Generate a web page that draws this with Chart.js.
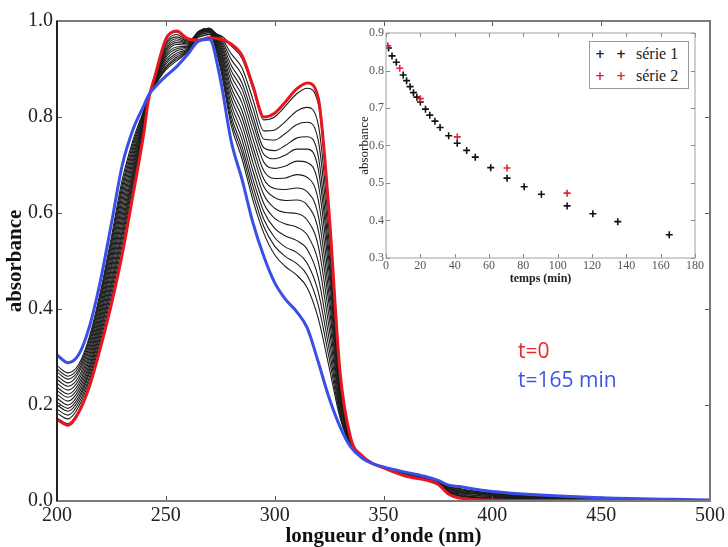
<!DOCTYPE html>
<html>
<head>
<meta charset="utf-8">
<script src="https://cdn.jsdelivr.net/npm/chart.js@4.4.0/dist/chart.umd.min.js"></script>
<style>
  html, body { margin: 0; padding: 0; background: #fff; }
  #wrap { position: relative; width: 728px; height: 547px; overflow: hidden; }
  #main { position: absolute; left: 0; top: 0; }
  #inset { position: absolute; left: 350px; top: 12px; }
  .note { position: absolute; font-family: 'Open Sans', sans-serif; font-size: 21px; line-height: 21px; white-space: nowrap; }
  #legend { position: absolute; left: 589px; top: 41px; width: 98px; height: 46px; border: 1px solid #9a9a9a; background: #fff;
            font-family: 'Liberation Serif', serif; font-size: 16px; color: #222; }
  #legend .row { position: absolute; left: 0; height: 20px; line-height: 20px; white-space: nowrap; }
  #legend .mk { position: absolute; width: 10px; text-align: center; font-family: 'DejaVu Sans', sans-serif; font-size: 12px; font-weight: bold; }
  #legend .lb { position: absolute; left: 46px; }
</style>
</head>
<body>
<div id="wrap">
  <canvas id="main" width="728" height="547"></canvas>
  <canvas id="inset" width="362" height="284"></canvas>
  <div id="legend">
    <div class="row" style="top:2px"><span class="mk" style="left:5px">+</span><span class="mk" style="left:26px">+</span><span class="lb">série 1</span></div>
    <div class="row" style="top:24px"><span class="mk" style="left:5px;color:#e3223c">+</span><span class="mk" style="left:26px;color:#e3223c">+</span><span class="lb">série 2</span></div>
  </div>
  <div class="note" style="left:518px;top:340px;color:#e8262b">t=0</div>
  <div class="note" style="left:518px;top:369px;color:#3f55e0">t=165 min</div>
</div>
<script>
// ── Spectra (wavelength grid in nm, absorbance) ──
const wavelengths = [200, 205, 210, 215, 220, 225, 230, 235, 240, 242, 245, 250, 255, 260, 265, 270, 275, 280, 285, 290,
  295, 300, 305, 310, 315, 320, 325, 330, 335, 340, 345, 350, 360, 370, 375, 380, 385, 390, 400, 420, 450, 500];

// t = 0
const absStart = [.170, .158, .185, .240, .320, .410, .515, .640, .770, .835, .885, .962, .979, .963, .960, .965, .962, .952, .928, .865,
  .800, .808, .832, .858, .871, .840, .600, .270, .130, .095, .078, .069, .052, .043, .035, .014, .006, .003, .002, .001, .001, .000];

// t = 165 min
const absEnd = [.304, .288, .305, .365, .460, .578, .700, .775, .825, .845, .862, .885, .905, .930, .958, .962, .880, .750, .670, .580,
  .510, .455, .420, .395, .360, .290, .215, .155, .112, .090, .078, .071, .060, .050, .043, .033, .030, .026, .020, .013, .007, .002];

// intermediate spectra (black), from earliest to latest
const absMiddle = [
  [.173, .161, .188, .243, .323, .414, .519, .643, .771, .835, .885, .960, .977, .962, .966, .972, .970, .948, .922, .859, .794, .800, .823, .848, .860, .828, .592, .268, .130, .095, .078, .069, .052, .043, .035, .014, .007, .004, .002, .001, .001, .000],
  [.183, .171, .197, .253, .334, .427, .534, .654, .776, .836, .883, .954, .972, .960, .971, .976, .968, .932, .902, .837, .771, .773, .791, .812, .820, .785, .562, .259, .128, .094, .078, .069, .053, .044, .036, .016, .008, .005, .004, .002, .002, .000],
  [.191, .179, .204, .260, .342, .437, .545, .662, .779, .837, .881, .950, .967, .958, .974, .979, .965, .920, .887, .819, .754, .752, .766, .784, .789, .752, .538, .252, .127, .094, .078, .069, .053, .044, .036, .017, .010, .007, .005, .003, .002, .001],
  [.200, .187, .211, .268, .351, .447, .556, .670, .782, .837, .880, .945, .963, .956, .976, .981, .962, .908, .871, .802, .736, .730, .741, .756, .759, .719, .515, .245, .126, .094, .078, .069, .054, .045, .037, .018, .011, .008, .006, .004, .002, .001],
  [.206, .193, .217, .274, .358, .455, .565, .677, .785, .838, .879, .941, .959, .954, .977, .983, .958, .897, .858, .788, .722, .713, .721, .733, .733, .692, .496, .239, .125, .094, .078, .070, .054, .045, .037, .019, .012, .009, .007, .004, .003, .001],
  [.214, .200, .224, .281, .366, .465, .575, .684, .788, .838, .878, .937, .955, .952, .978, .984, .954, .886, .844, .772, .706, .693, .698, .708, .705, .661, .475, .233, .124, .093, .078, .070, .055, .045, .038, .020, .014, .010, .008, .005, .003, .001],
  [.222, .208, .231, .288, .374, .475, .586, .692, .791, .839, .876, .932, .951, .950, .978, .985, .949, .874, .829, .755, .688, .672, .673, .680, .674, .628, .452, .226, .123, .093, .078, .070, .055, .046, .038, .021, .015, .012, .009, .006, .003, .001],
  [.230, .216, .238, .296, .382, .485, .597, .700, .795, .839, .875, .928, .946, .948, .978, .985, .944, .862, .813, .738, .671, .651, .649, .652, .644, .595, .429, .219, .122, .093, .078, .070, .056, .046, .039, .022, .017, .013, .010, .006, .004, .001],
  [.237, .223, .245, .303, .390, .494, .608, .708, .798, .840, .874, .924, .942, .947, .977, .985, .939, .851, .799, .723, .655, .632, .626, .627, .616, .565, .408, .213, .121, .093, .078, .070, .056, .047, .039, .024, .018, .015, .011, .007, .004, .001],
  [.245, .231, .252, .310, .398, .504, .619, .716, .801, .841, .872, .919, .938, .945, .976, .984, .933, .839, .784, .705, .638, .610, .601, .599, .585, .532, .384, .206, .120, .092, .078, .070, .056, .047, .039, .025, .019, .016, .012, .008, .004, .001],
  [.253, .239, .259, .318, .407, .514, .630, .724, .804, .841, .871, .914, .933, .943, .975, .983, .927, .827, .768, .688, .620, .589, .577, .571, .554, .499, .361, .199, .119, .092, .078, .070, .057, .047, .040, .026, .021, .017, .013, .008, .005, .001],
  [.261, .246, .267, .325, .415, .524, .641, .732, .807, .842, .869, .910, .929, .941, .973, .981, .921, .815, .753, .671, .603, .568, .552, .543, .524, .466, .338, .192, .118, .092, .078, .070, .057, .048, .040, .027, .022, .019, .014, .009, .005, .002],
  [.269, .254, .273, .332, .423, .533, .651, .739, .810, .842, .868, .905, .925, .939, .971, .978, .915, .803, .738, .656, .587, .549, .529, .518, .495, .436, .317, .186, .117, .091, .078, .070, .058, .048, .041, .028, .024, .020, .015, .010, .005, .002],
  [.275, .260, .279, .338, .430, .542, .660, .746, .813, .843, .867, .902, .921, .937, .969, .975, .909, .793, .726, .641, .572, .531, .509, .495, .470, .408, .298, .180, .116, .091, .078, .071, .058, .048, .041, .029, .025, .021, .016, .010, .006, .002],
  [.282, .267, .285, .344, .437, .550, .670, .753, .816, .843, .866, .898, .917, .935, .967, .972, .903, .783, .713, .627, .558, .513, .488, .471, .444, .381, .279, .174, .115, .091, .078, .071, .059, .049, .042, .030, .026, .022, .017, .011, .006, .002],
];

// ── Inset: absorbance vs time ──
const timesSerie1 = [1.5, 3.5, 6, 10, 12, 14, 16, 18, 20, 23, 25.5, 28.5, 31.5, 36.5, 41.5, 47, 52, 61, 70.5, 80.5, 90.5, 105.5, 120.5, 135, 165];
const absSerie1   = [.860, .839, .822, .788, .773, .757, .741, .729, .716, .697, .681, .665, .648, .626, .606, .587, .569, .541, .513, .490, .470, .439, .418, .397, .362];
const timesSerie2 = [1, 8, 20, 41.5, 70.5, 105.5];
const absSerie2   = [.866, .806, .725, .623, .540, .473];

const mainXTicks = [200, 500, 50];   // min, max, step
const mainYTicks = [0, 1, 0.2];
const insetXTicks = [0, 180, 20];
const insetYTicks = [0.3, 0.9, 0.1];

// ── Helpers ──
const SERIF = "'Liberation Serif', 'Times New Roman', serif";
const toPoints = (xs, ys) => xs.map((x, i) => ({ x, y: ys[i] }));

// frame round the plot area + small inward ticks (matplotlib look)
const frameTicks = {
  id: 'frameTicks',
  afterDatasetsDraw(chart, args, o) {
    const { ctx, chartArea: a } = chart;
    const xs = chart.scales.x, ys = chart.scales.y;
    ctx.save();
    ctx.strokeStyle = o.tickColor;
    ctx.lineWidth = 1;
    ctx.beginPath();
    xs.ticks.forEach(t => {
      const p = Math.round(xs.getPixelForValue(t.value)) + 0.5;
      ctx.moveTo(p, a.bottom); ctx.lineTo(p, a.bottom - o.len);
      ctx.moveTo(p, a.top); ctx.lineTo(p, a.top + o.len);
    });
    ys.ticks.forEach(t => {
      const p = Math.round(ys.getPixelForValue(t.value)) + 0.5;
      ctx.moveTo(a.left, p); ctx.lineTo(a.left + o.len, p);
      ctx.moveTo(a.right, p); ctx.lineTo(a.right - o.len, p);
    });
    ctx.stroke();
    ctx.lineWidth = o.width;
    ctx.strokeStyle = o.color;
    ctx.strokeRect(a.left, a.top, a.right - a.left, a.bottom - a.top);
    if (o.leftColor) {
      ctx.strokeStyle = o.leftColor;
      ctx.beginPath(); ctx.moveTo(a.left, a.top); ctx.lineTo(a.left, a.bottom); ctx.stroke();
    }
    ctx.restore();
  }
};

function lineSet(values, color, width) {
  return {
    data: toPoints(wavelengths, values),
    borderColor: color,
    borderWidth: width,
    pointRadius: 0,
    fill: false,
    cubicInterpolationMode: 'monotone',
  };
}

// ── Main chart ──
// first dataset is drawn on top: blue, red, then the black ones
const mainSets = [lineSet(absEnd, '#3a4fe6', 3), lineSet(absStart, '#e8161f', 3)];
absMiddle.forEach(v => mainSets.push(lineSet(v, '#1c1c1c', 1.1)));

new Chart(document.getElementById('main'), {
  type: 'line',
  data: { datasets: mainSets },
  options: {
    responsive: false,
    animation: false,
    layout: { padding: { top: 21, right: 15, left: 0, bottom: 0 } },
    plugins: {
      legend: { display: false },
      tooltip: { enabled: false },
      frameTicks: { color: '#7a7a7a', leftColor: '#222', width: 2, tickColor: '#555', len: 5 },
    },
    scales: {
      x: {
        type: 'linear',
        min: mainXTicks[0], max: mainXTicks[1],
        afterFit: s => { s.height = 46; },
        grid: { display: false, drawTicks: false },
        border: { display: false },
        ticks: { stepSize: mainXTicks[2], padding: 3, color: '#222', font: { family: SERIF, size: 20 } },
        title: { display: true, text: 'longueur d’onde (nm)', color: '#111', padding: { top: 0, bottom: 0 },
                 font: { family: SERIF, size: 21, weight: 'bold', lineHeight: 1 } },
      },
      y: {
        min: mainYTicks[0], max: mainYTicks[1],
        afterFit: s => { s.width = 57; },
        grid: { display: false, drawTicks: false },
        border: { display: false },
        ticks: { stepSize: mainYTicks[2], padding: 4, color: '#222', font: { family: SERIF, size: 20 },
                 callback: v => v.toFixed(1) },
        title: { display: true, text: 'absorbance', color: '#111', padding: { top: 3, bottom: 0 },
                 font: { family: SERIF, size: 21, weight: 'bold' } },
      },
    },
  },
  plugins: [frameTicks],
});

// ── Inset chart ──
new Chart(document.getElementById('inset'), {
  type: 'scatter',
  data: {
    datasets: [
      { label: 'série 2', data: toPoints(timesSerie2, absSerie2), pointStyle: 'cross', radius: 3.5, borderWidth: 1.6,
        borderColor: '#e3223c', backgroundColor: '#e3223c' },
      { label: 'série 1', data: toPoints(timesSerie1, absSerie1), pointStyle: 'cross', radius: 3.5, borderWidth: 1.6,
        borderColor: '#111', backgroundColor: '#111' },
    ],
  },
  options: {
    responsive: false,
    animation: false,
    layout: { padding: { top: 21, right: 17, left: 0, bottom: 0 } },
    plugins: {
      legend: { display: false },
      tooltip: { enabled: false },
      frameTicks: { color: '#a0a0a0', width: 1, tickColor: '#888', len: 4 },
    },
    scales: {
      x: {
        type: 'linear',
        min: insetXTicks[0], max: insetXTicks[1],
        afterFit: s => { s.height = 38; },
        grid: { display: false, drawTicks: false },
        border: { display: false },
        ticks: { stepSize: insetXTicks[2], padding: 1, color: '#555', font: { family: SERIF, size: 12 } },
        title: { display: true, text: 'temps (min)', color: '#222', padding: { top: 0, bottom: 10 },
                 font: { family: SERIF, size: 12, weight: 'bold' } },
      },
      y: {
        min: insetYTicks[0], max: insetYTicks[1],
        afterFit: s => { s.width = 36; },
        grid: { display: false, drawTicks: false },
        border: { display: false },
        ticks: { stepSize: insetYTicks[2], padding: 2, color: '#555', font: { family: SERIF, size: 12 },
                 callback: v => v.toFixed(1) },
        title: { display: true, text: 'absorbance', color: '#222', padding: { top: 7, bottom: 0 },
                 font: { family: SERIF, size: 13 } },
      },
    },
  },
  plugins: [frameTicks],
});
</script>
</body>
</html>
